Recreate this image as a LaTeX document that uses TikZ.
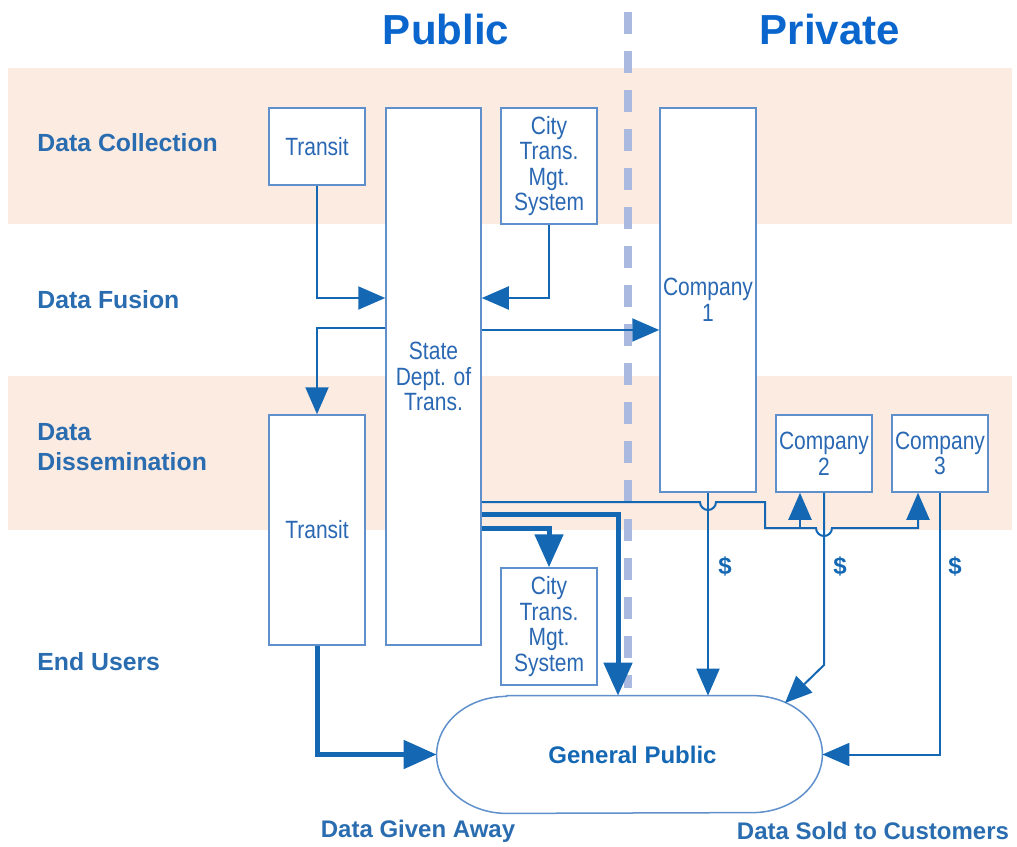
\documentclass[tikz,border=0pt]{standalone}
\usepackage{fontspec}
\setmainfont{Liberation Sans}
\newfontfamily\cond[FakeStretch=0.84]{Liberation Sans}
\usetikzlibrary{arrows.meta}
\definecolor{peach}{HTML}{FCEBE1}
\definecolor{dashc}{HTML}{A9B9DF}
\definecolor{boxc}{HTML}{5F90CC}
\definecolor{btext}{HTML}{2A68B3}
\definecolor{cblue}{HTML}{1467B3}
\definecolor{lblue}{HTML}{2A6CB0}
\definecolor{tblue}{HTML}{0A66CC}
\tikzset{
  box/.style={draw=boxc, line width=0.75pt, fill=white, inner sep=0pt, align=center,
    text=btext, font=\cond\fontsize{12.5pt}{12.8pt}\selectfont, minimum width=48pt},
  conn/.style={draw=cblue, line width=1pt, -{Triangle[length=13.5pt,width=11.5pt]}},
  thinline/.style={draw=cblue, line width=1pt},
  thickconn/.style={draw=cblue, line width=2.5pt, -{Triangle[length=16.5pt,width=14pt]}},
  rowlabel/.style={anchor=west, align=left, text=lblue, font=\bfseries\fontsize{12.4pt}{15pt}\selectfont, inner sep=0pt},
  botlabel/.style={text=lblue, font=\bfseries\fontsize{12pt}{14pt}\selectfont, inner sep=0pt},
  title/.style={text=tblue, font=\bfseries\fontsize{21pt}{24pt}\selectfont, inner sep=0pt},
  dollar/.style={text=cblue, font=\bfseries\fontsize{12pt}{14pt}\selectfont, inner sep=0pt}
}
\begin{document}
\begin{tikzpicture}[x=0.5pt, y=-0.5pt]
\useasboundingbox (0,0) rectangle (1017,846);
% bands
\fill[peach] (8,68) rectangle (1012,224);
\fill[peach] (8,376) rectangle (1012,530);
% divider
\draw[dashc, line width=4pt, dash pattern=on 11pt off 8.5pt] (628,12) -- (628,688);
% titles
\node[title] (pub) at (446,29) {Public};
\node[title] (priv) at (830,29) {Private};
% row labels
\node[rowlabel] (l1) at (37,143) {Data Collection};
\node[rowlabel] (l2) at (37,300) {Data Fusion};
\node[rowlabel] (l3) at (37,447) {Data\\Dissemination};
\node[rowlabel] (l4) at (37,662) {End Users};
% boxes
\node[box, minimum height=38.5pt] (tt) at (317,146.5) {Transit};
\node[box, minimum width=47.5pt, minimum height=268.5pt] (state) at (433.5,376.5) {State\\Dept. of\\Trans.};
\node[box, minimum height=58pt] (ct) at (549,166) {City\\Trans.\\Mgt.\\System};
\node[box, minimum height=192pt] (c1) at (708,300) {Company\\1};
\node[box, minimum height=38.5pt] (c2) at (824,453.5) {Company\\2};
\node[box, minimum height=38.5pt] (c3) at (940,453.5) {Company\\3};
\node[box, minimum height=115pt] (tb) at (317,530) {Transit};
\node[box, minimum height=58.5pt] (cb) at (549,626.5) {City\\Trans.\\Mgt.\\System};
% general public
\node[inner sep=0pt, minimum width=192.5pt, minimum height=58.5pt, text=cblue,
  font=\bfseries\fontsize{12pt}{14pt}\selectfont] (gp) at (629.5,754.5) {\hspace*{3pt}General Public};
\draw[boxc, line width=0.75pt] ([xshift=35pt]gp.north west) -- ([xshift=-35pt]gp.north east)
  arc[start angle=90, end angle=-90, x radius=35pt, y radius=29.25pt]
  -- ([xshift=35pt]gp.south west)
  arc[start angle=270, end angle=90, x radius=35pt, y radius=29.25pt] -- cycle;
% connectors
\draw[conn] (tt.south) |- (state.west |- 0,298);
\draw[conn] (ct.south) |- (state.east |- 0,298);
\draw[conn] (state.west |- 0,328) -| (tb.north);
\draw[conn] (state.east |- 0,330) -- (c1.west |- 0,330);
\coordinate (br) at (800,528);
\draw[conn] (state.east |- 0,502) -- (700,502) arc[start angle=180, end angle=360, radius=4pt]
  -- (765,502) -- (765,528) -- (816,528) arc[start angle=180, end angle=360, radius=4pt]
  -- (918,528) -- (c3.south -| 918,0);
\draw[conn] (br) -- (c2.south -| br);
\draw[thickconn] (state.east |- 0,514) -| (gp.north -| 618,0);
\draw[thickconn] (state.east |- 0,528) -| (cb.north);
\draw[thickconn] (tb.south) |- (gp.west);
\draw[conn] (c1.south) -- (c1.south |- gp.north);
\coordinate (gpd) at (785,703);
\draw[conn] (c2.south) -- (824,665) -- (gpd);
\draw[conn] (c3.south) |- (gp.east);
% dollar signs
\node[dollar] (d1) at (725,566) {\$};
\node[dollar] (d2) at (840,566) {\$};
\node[dollar] (d3) at (955,566) {\$};
% bottom labels
\node[botlabel] (ga) at (418,831) {Data Given Away};
\node[botlabel] (ds) at (873,831) {Data Sold to Customers};
\end{tikzpicture}
\end{document}
